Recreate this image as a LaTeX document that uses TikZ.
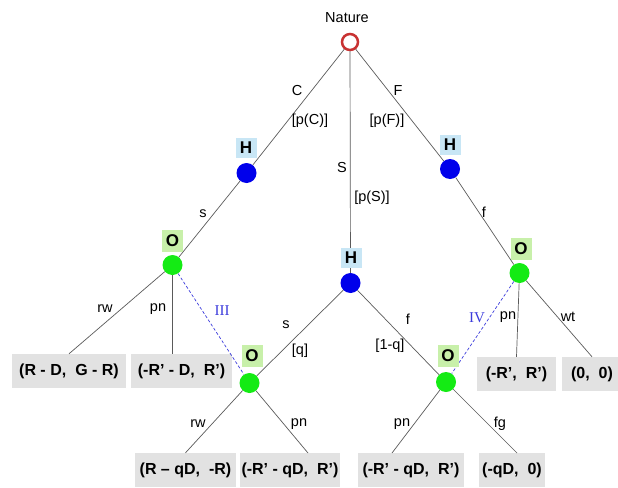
\documentclass[tikz,border=0pt]{standalone}
\usepackage{fontspec}
\setmainfont{Liberation Sans}
\newfontfamily\romfont{Liberation Serif}
\definecolor{edgegray}{RGB}{90,90,90}
\definecolor{natred}{RGB}{200,50,50}
\definecolor{hblue}{RGB}{0,0,235}
\definecolor{ogreen}{RGB}{20,235,20}
\definecolor{hlab}{RGB}{200,230,245}
\definecolor{olab}{RGB}{200,240,170}
\definecolor{paygray}{RGB}{226,226,226}
\definecolor{dashblue}{RGB}{60,60,220}
\newcommand\gap{\hspace{9pt}}
\begin{document}
\begin{tikzpicture}[x=1pt,y=-1pt,
  edge/.style={draw=edgegray, line width=0.7pt},
  infoset/.style={draw=dashblue, line width=0.7pt, dash pattern=on 3pt off 2pt},
  natnode/.style={circle, draw=natred, line width=2.5pt, fill=white, minimum size=16pt, inner sep=0pt},
  hnode/.style={circle, fill=hblue, minimum size=20pt, inner sep=0pt},
  onode/.style={circle, fill=ogreen, minimum size=20pt, inner sep=0pt},
  hlabel/.style={fill=hlab, minimum width=21pt, minimum height=20pt, inner sep=0pt, font=\bfseries\fontsize{17}{18}\selectfont},
  olabel/.style={fill=olab, minimum width=21pt, minimum height=22pt, inner sep=0pt, font=\bfseries\fontsize{17}{18}\selectfont},
  lbl/.style={inner sep=0pt, font=\fontsize{14.5}{16}\selectfont},
  rom/.style={inner sep=0pt, text=dashblue, font=\romfont\fontsize{15}{16}\selectfont},
  pay/.style={fill=paygray, minimum height=34pt, inner sep=0pt, font=\bfseries\fontsize{16}{18}\selectfont}
]
\useasboundingbox (0,0) rectangle (618,487);

% decision nodes
\node[natnode] (nat) at (350,42) {};
\node[hnode] (hl) at (246.5,173) {};
\node[hnode] (hm) at (350.5,283) {};
\node[hnode] (hr) at (450,169) {};
\node[onode] (ol) at (172.5,265) {};
\node[onode] (or) at (519.5,273) {};
\node[onode] (oml) at (249.5,383) {};
\node[onode] (omr) at (446,382) {};

% payoffs
\node[pay, minimum width=114pt] (b1) at (69,371) {(R - D,\gap G - R)};
\node[pay, minimum width=101pt] (b2) at (181.5,371) {(-R’ - D,\gap R’)};
\node[pay, minimum width=79pt] (b3) at (516.5,374) {(-R’,\gap R’)};
\node[pay, minimum width=60pt] (b4) at (592,374) {(0,\gap 0)};
\node[pay, minimum width=101pt] (b5) at (185.5,470) {(R – qD,\gap -R)};
\node[pay, minimum width=100pt] (b6) at (290,470) {(-R’ - qD,\gap R’)};
\node[pay, minimum width=106pt] (b7) at (411,470) {(-R’ - qD,\gap R’)};
\node[pay, minimum width=66pt] (b8) at (512,470) {(-qD,\gap 0)};

\coordinate (e6) at (308,453);
\coordinate (e7) at (392,453);
\coordinate (e8) at (517,453);

% edges
\draw[edge] (nat) -- (hl);
\draw[edge] (hl) -- (ol);
\draw[edge] (nat) -- (hm);
\draw[edge] (nat) -- (hr);
\draw[edge] (hr) -- (or);
\draw[edge] (ol) -- (b1.north);
\draw[edge] (ol) -- (ol |- b2.north);
\draw[edge] (or) -- (b3.north);
\draw[edge] (or) -- (b4.north);
\draw[edge] (hm) -- (oml);
\draw[edge] (hm) -- (omr);
\draw[edge] (oml) -- (b5.north);
\draw[edge] (oml) -- (e6);
\draw[edge] (omr) -- (e7);
\draw[edge] (omr) -- (e8);
\draw[infoset] (ol) -- (oml);
\draw[infoset] (or) -- (omr);

% player labels
\node[hlabel] (lhl) at (246,148) {H};
\node[hlabel] (lhm) at (351,258) {H};
\node[hlabel] (lhr) at (450,145) {H};
\node[olabel] (lol) at (172.5,240.5) {O};
\node[olabel] (lor) at (521,248.5) {O};
\node[olabel] (loml) at (252,355.5) {O};
\node[olabel] (lomr) at (448,355.5) {O};

% text labels
\node[lbl] (tnat) at (347,18) {Nature};
\node[lbl] (tC) at (297,91) {C};
\node[lbl] (tpC) at (310,121) {[p(C)]};
\node[lbl] (tF) at (398,91) {F};
\node[lbl] (tpF) at (387,121) {[p(F)]};
\node[lbl] (tS) at (342,168) {S};
\node[lbl] (tpS) at (372,198) {[p(S)]};
\node[lbl] (ts1) at (203,214) {s};
\node[lbl] (tf1) at (484,212) {f};
\node[lbl] (trw1) at (105,309) {rw};
\node[lbl] (tpn1) at (158,309) {pn};
\node[rom] (tIII) at (222,311) {III};
\node[lbl] (ts2) at (286,325) {s};
\node[lbl] (tq) at (300,351) {[q]};
\node[lbl] (tf2) at (408,319) {f};
\node[lbl] (t1q) at (390,346) {[1-q]};
\node[rom] (tIV) at (477,318) {IV};
\node[lbl] (tpn2) at (508,317) {pn};
\node[lbl] (twt) at (568,317) {wt};
\node[lbl] (trw2) at (198,424) {rw};
\node[lbl] (tpn3) at (299,424) {pn};
\node[lbl] (tpn4) at (402,424) {pn};
\node[lbl] (tfg) at (500,424) {fg};
\end{tikzpicture}
\end{document}
